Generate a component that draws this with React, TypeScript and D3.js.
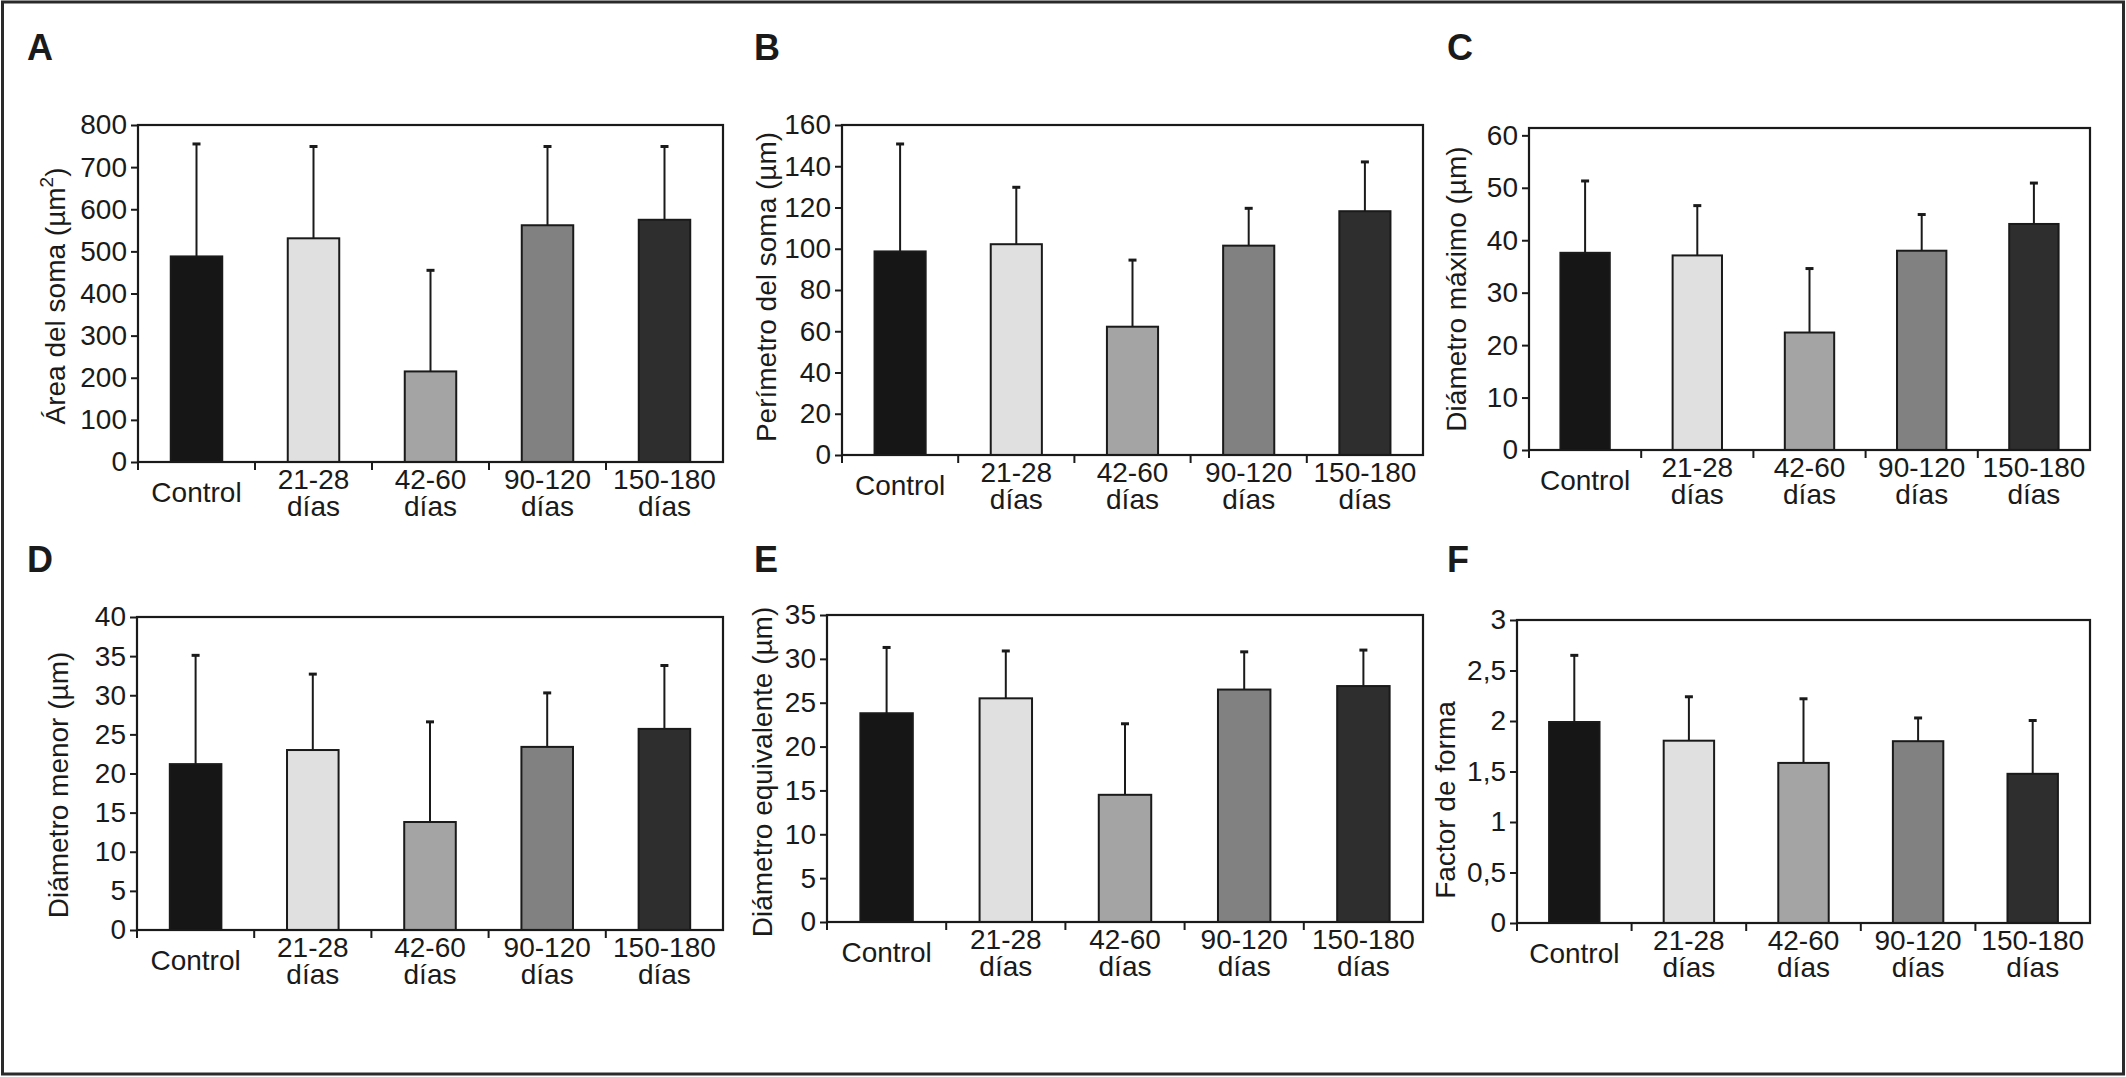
import { useEffect, useRef } from 'react';
import * as d3 from 'd3';

// Soma morphometry by post-lesion interval — six small bar charts with upper SD whiskers.

const GROUPS = ['Control', '21-28', '42-60', '90-120', '150-180'];
const GROUP_LINES = [['Control'], ['21-28', 'días'], ['42-60', 'días'], ['90-120', 'días'], ['150-180', 'días']];
const GROUP_FILLS = ['#161616', '#e0e0e0', '#a4a4a4', '#818181', '#2e2e2e'];

const AREA_MEAN = [488, 531, 215, 562, 575];
const AREA_SD = [267, 218, 240, 187, 174];
const AREA_TICKS = [0, 100, 200, 300, 400, 500, 600, 700, 800];

const PERIM_MEAN = [98.7, 102.2, 62.2, 101.5, 118.2];
const PERIM_SD = [52.1, 27.6, 32.3, 18.1, 23.9];
const PERIM_TICKS = [0, 20, 40, 60, 80, 100, 120, 140, 160];

const DMAX_MEAN = [37.6, 37.1, 22.4, 38.0, 43.1];
const DMAX_SD = [13.7, 9.5, 12.2, 6.9, 7.8];
const DMAX_TICKS = [0, 10, 20, 30, 40, 50, 60];

const DMIN_MEAN = [21.2, 23.0, 13.8, 23.4, 25.7];
const DMIN_SD = [13.9, 9.7, 12.8, 6.9, 8.1];
const DMIN_TICKS = [0, 5, 10, 15, 20, 25, 30, 35, 40];

const DEQ_MEAN = [23.8, 25.5, 14.5, 26.5, 26.9];
const DEQ_SD = [7.5, 5.4, 8.1, 4.3, 4.1];
const DEQ_TICKS = [0, 5, 10, 15, 20, 25, 30, 35];

const FORM_MEAN = [1.99, 1.805, 1.585, 1.8, 1.477];
const FORM_SD = [0.66, 0.435, 0.635, 0.23, 0.528];
const FORM_TICKS = [0, 0.5, 1, 1.5, 2, 2.5, 3];

type Panel = {
  letter: string;
  title: string;
  sup?: string;
  mean: number[];
  sd: number[];
  ticks: number[];
  yMax: number;
  box: [number, number, number, number]; // x0, y0, x1, y1
  letterAt: [number, number];
  titleAt: [number, number];
};

const PANELS: Panel[] = [
  { letter: 'A', title: 'Área del soma (µm', sup: '2', mean: AREA_MEAN, sd: AREA_SD, ticks: AREA_TICKS, yMax: 800,
    box: [138, 125, 723, 462], letterAt: [27, 60], titleAt: [55, 296] },
  { letter: 'B', title: 'Perímetro del soma (µm)', mean: PERIM_MEAN, sd: PERIM_SD, ticks: PERIM_TICKS, yMax: 160,
    box: [842, 125, 1423, 455], letterAt: [754, 60], titleAt: [766, 287] },
  { letter: 'C', title: 'Diámetro máximo (µm)', mean: DMAX_MEAN, sd: DMAX_SD, ticks: DMAX_TICKS, yMax: 61.4,
    box: [1529, 128, 2090, 450], letterAt: [1447, 60], titleAt: [1456, 289] },
  { letter: 'D', title: 'Diámetro menor (µm)', mean: DMIN_MEAN, sd: DMIN_SD, ticks: DMIN_TICKS, yMax: 40,
    box: [137, 617, 723, 930], letterAt: [27, 572], titleAt: [58, 785] },
  { letter: 'E', title: 'Diámetro equivalente (µm)', mean: DEQ_MEAN, sd: DEQ_SD, ticks: DEQ_TICKS, yMax: 35,
    box: [827, 615, 1423, 922], letterAt: [754, 572], titleAt: [762, 772] },
  { letter: 'F', title: 'Factor de forma', mean: FORM_MEAN, sd: FORM_SD, ticks: FORM_TICKS, yMax: 3,
    box: [1517, 620, 2090, 923], letterAt: [1447, 572], titleAt: [1445, 800] },
];

const W = 2126;
const H = 1077;
const INK = '#1a1a1a';
const FONT = '"Liberation Sans", Arial, Helvetica, sans-serif';

export default function App() {
  const svgRef = useRef<SVGSVGElement>(null);

  useEffect(() => {
    document.body.style.margin = '0';
    const svg = d3.select(svgRef.current);
    svg.selectAll('*').remove();

    svg.append('rect')
      .attr('x', 0).attr('y', 0).attr('width', W).attr('height', H)
      .attr('fill', '#fff');

    // Outer frame round the whole figure
    svg.append('rect')
      .attr('x', 2.5).attr('y', 2).attr('width', W - 5).attr('height', H - 5)
      .attr('fill', 'none').attr('stroke', '#2a2a2a').attr('stroke-width', 3);

    for (const p of PANELS) {
      const [x0, y0, x1, y1] = p.box;
      const g = svg.append('g').attr('font-family', FONT).attr('fill', INK);

      const x = d3.scaleBand<string>().domain(GROUPS).range([x0, x1]).paddingInner(0).paddingOuter(0);
      const y = d3.scaleLinear().domain([0, p.yMax]).range([y1, y0]);
      const barW = x.bandwidth() * 0.44;

      // Panel letter
      g.append('text')
        .attr('x', p.letterAt[0]).attr('y', p.letterAt[1])
        .attr('font-size', 36).attr('font-weight', 'bold')
        .text(p.letter);

      // Y axis title (with optional superscript, e.g. µm²)
      const title = g.append('text')
        .attr('transform', `translate(${p.titleAt[0]},${p.titleAt[1]}) rotate(-90)`)
        .attr('text-anchor', 'middle').attr('dominant-baseline', 'central')
        .attr('font-size', 28);
      title.append('tspan').text(p.title);
      if (p.sup) {
        title.append('tspan').attr('font-size', 19).attr('dy', -9).text(p.sup);
        title.append('tspan').attr('dy', 9).text(')');
      }

      // Y axis ticks and labels
      const yAxis = d3.axisLeft(y)
        .tickValues(p.ticks)
        .tickSize(7)
        .tickPadding(4)
        .tickFormat((d) => String(d).replace('.', ','));
      const ya = g.append('g').attr('transform', `translate(${x0},0)`).call(yAxis);
      ya.select('.domain').remove();
      ya.selectAll('.tick line').attr('stroke', INK).attr('stroke-width', 2);
      ya.selectAll('.tick text')
        .attr('font-size', 28).attr('font-family', FONT).attr('fill', INK);

      // Bars
      g.selectAll('rect.bar')
        .data(GROUPS)
        .join('rect')
        .attr('class', 'bar')
        .attr('x', (d) => (x(d) ?? 0) + (x.bandwidth() - barW) / 2)
        .attr('y', (_, i) => y(p.mean[i]))
        .attr('width', barW)
        .attr('height', (_, i) => y1 - y(p.mean[i]))
        .attr('fill', (_, i) => GROUP_FILLS[i])
        .attr('stroke', INK).attr('stroke-width', 2);

      // Upper SD whiskers
      GROUPS.forEach((gName, i) => {
        const cx = (x(gName) ?? 0) + x.bandwidth() / 2;
        const top = y(p.mean[i] + p.sd[i]);
        g.append('line')
          .attr('x1', cx).attr('x2', cx)
          .attr('y1', y(p.mean[i])).attr('y2', top)
          .attr('stroke', INK).attr('stroke-width', 2);
        g.append('line')
          .attr('x1', cx - 4).attr('x2', cx + 4)
          .attr('y1', top).attr('y2', top)
          .attr('stroke', INK).attr('stroke-width', 3);
      });

      // Plot frame
      g.append('rect')
        .attr('x', x0).attr('y', y0).attr('width', x1 - x0).attr('height', y1 - y0)
        .attr('fill', 'none').attr('stroke', INK).attr('stroke-width', 2.2);

      // Category boundary ticks below the axis
      GROUPS.forEach((gName) => {
        const bx = x(gName) ?? 0;
        g.append('line')
          .attr('x1', bx).attr('x2', bx)
          .attr('y1', y1).attr('y2', y1 + 8)
          .attr('stroke', INK).attr('stroke-width', 2);
      });

      // Category labels
      GROUPS.forEach((gName, i) => {
        const cx = (x(gName) ?? 0) + x.bandwidth() / 2;
        const lines = GROUP_LINES[i];
        const offsets = lines.length === 1 ? [40] : [27, 54];
        lines.forEach((ln, j) => {
          g.append('text')
            .attr('x', cx).attr('y', y1 + offsets[j])
            .attr('text-anchor', 'middle')
            .attr('font-size', 28)
            .text(ln);
        });
      });
    }
  }, []);

  return <svg ref={svgRef} width={W} height={H} style={{ display: 'block' }} />;
}
